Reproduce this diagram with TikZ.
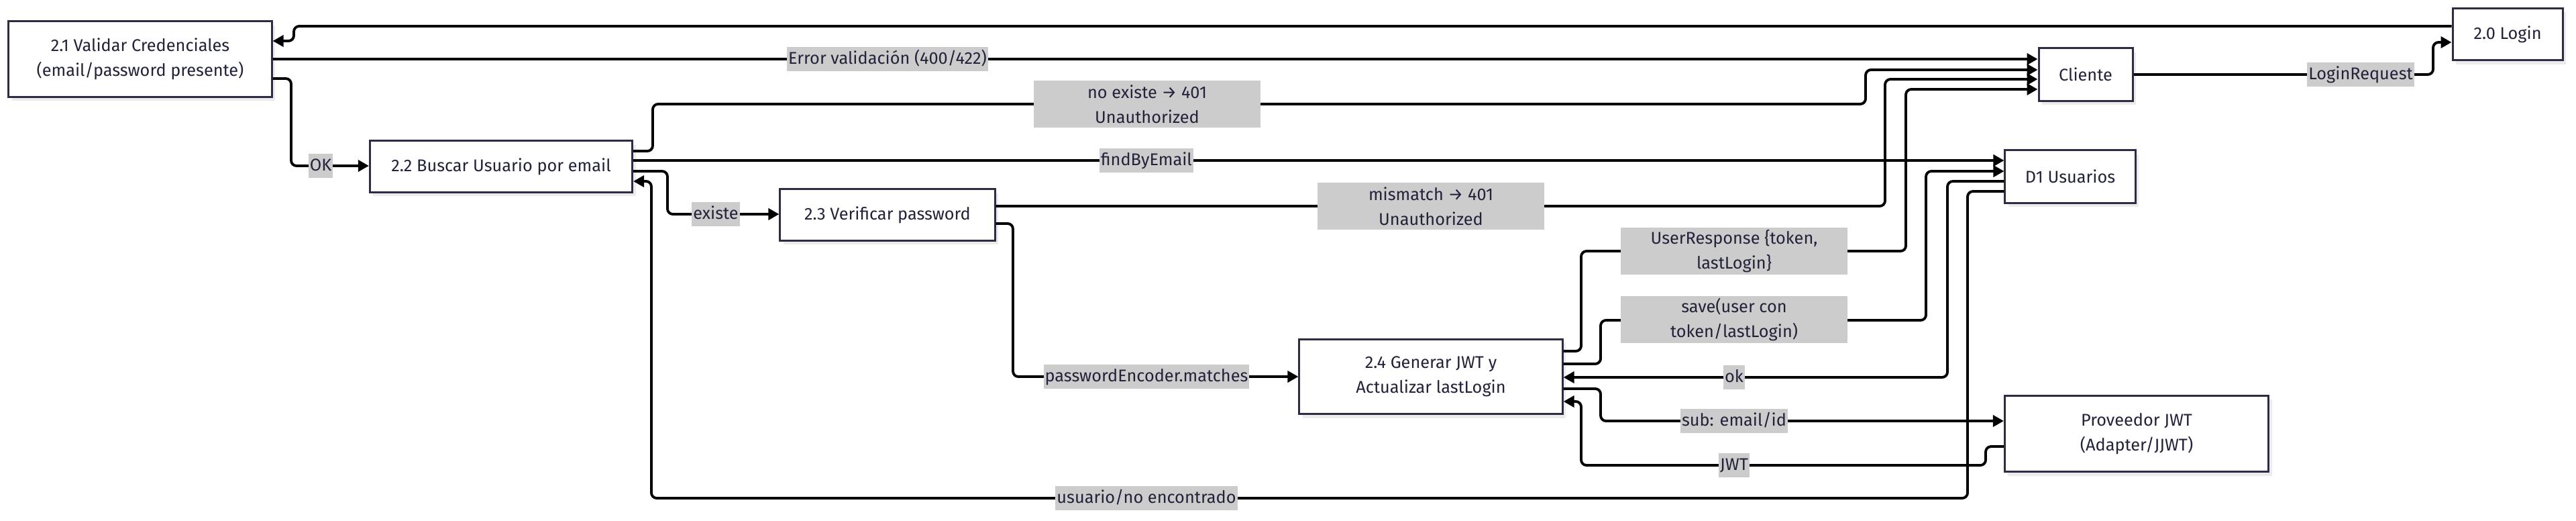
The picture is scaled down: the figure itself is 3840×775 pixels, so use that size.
\documentclass[tikz,border=0pt]{standalone}
\usepackage{fontspec}
\setmainfont{Fira Sans}
\usetikzlibrary{arrows.meta,shadows}
\definecolor{ink}{HTML}{22223A}
\definecolor{boxline}{HTML}{2C2C44}
\definecolor{tagfill}{HTML}{CCCCCC}
\definecolor{shade}{HTML}{EBEBEB}
\begin{document}
\begin{tikzpicture}[x=0.01cm, y=-0.01cm,
    proc/.style = {draw=boxline, line width=0.85pt, fill=white, text=ink, align=center, inner sep=0pt,
        font=\fontsize{7.2}{10.5}\selectfont,
        drop shadow={shadow xshift=0.05cm, shadow yshift=-0.06cm, fill=shade, opacity=1}},
    tag/.style = {fill=tagfill, text=ink, sharp corners, inner xsep=0.6pt, inner ysep=0.8pt,
        text height=6.6pt, text depth=2.2pt, font=\fontsize{7.2}{10.5}\selectfont},
    tagtwo/.style = {fill=tagfill, text=ink, sharp corners, align=center, inner sep=0pt,
        minimum width=3.37cm, minimum height=0.70cm, font=\fontsize{7.2}{10.5}\selectfont},
    flow/.style = {line width=1.1pt, rounded corners=0.08cm, -{Triangle[length=0.16cm, width=0.17cm]}}]
                \useasboundingbox (0,0) rectangle (3840,775);

                \node[proc] (21) [minimum width=3.92cm, minimum height=1.12cm] at (209,88) {2.1 Validar Credenciales\\(email/password presente)};
                \node[proc] (22) [minimum width=3.91cm, minimum height=0.76cm] at (747,248) {2.2 Buscar Usuario por email};
                \node[proc] (23) [minimum width=3.20cm, minimum height=0.76cm] at (1323,320) {2.3 Verificar password};
                \node[proc] (24) [minimum width=3.92cm, minimum height=1.11cm] at (2133,561) {2.4 Generar JWT y\\Actualizar lastLogin};
                \node[proc] (cli) [minimum width=1.40cm, minimum height=0.78cm] at (3109,111) {Cliente};
                \node[proc] (20) [minimum width=1.64cm, minimum height=0.77cm] at (3738,51) {2.0 Login};
                \node[proc] (d1) [minimum width=1.94cm, minimum height=0.78cm] at (3086,263) {D1 Usuarios};
                \node[proc] (jwt) [minimum width=3.93cm, minimum height=1.13cm] at (3185,646) {Proveedor JWT\\(Adapter/JJWT)};

                \draw[flow] (20.west |- 0,39) -| (438,61) -- (21.east |- 0,61);
                \draw[flow] (21.east |- 0,88) -- (cli.west |- 0,88) node[tag] at (1323,88) {Error validación (400/422)};
                \draw[flow] (21.east |- 0,117) -| (434,247) -- (22.west |- 0,247) node[tag] at (478,247) {OK};
                \draw[flow] (22.east |- 0,225) -| (973,155) -| (2781,104) -- (cli.west |- 0,104) node[tagtwo] at (1710,155) {no existe → 401\\Unauthorized};
                \draw[flow] (22.east |- 0,239) -- (d1.west |- 0,239) node[tag] at (1709,239) {findByEmail};
                \draw[flow] (22.east |- 0,255) -| (995,319) -- (23.west |- 0,319) node[tag] at (1067,319) {existe};
                \draw[flow] (23.east |- 0,307) -| (2810,118) -- (cli.west |- 0,118) node[tagtwo] at (2133,307) {mismatch → 401\\Unauthorized};
                \draw[flow] (23.east |- 0,333) -| (1510,561) -- (24.west |- 0,561) node[tag] at (1709,561) {passwordEncoder.matches};
                \draw[flow] (24.east |- 0,523) -| (2357,374) -| (2841,133) -- (cli.west |- 0,133) node[tagtwo] at (2585,374) {UserResponse \{token,\\lastLogin\}};
                \draw[flow] (24.east |- 0,542) -| (2386,477) -| (2871,255) -- (d1.west |- 0,255) node[tagtwo] at (2585,476) {save(user con\\token/lastLogin)};
                \draw[flow] (d1.west |- 0,270) -| (2903,562) -- (24.east |- 0,562) node[tag] at (2585,562) {ok};
                \draw[flow] (24.east |- 0,579) -| (2386,627) -- (jwt.west |- 0,627) node[tag] at (2585,627) {sub: email/id};
                \draw[flow] (jwt.west |- 0,665) -| (2960,693) -| (2357,598) -- (24.east |- 0,598) node[tag] at (2585,693) {JWT};
                \draw[flow] (d1.west |- 0,285) -| (2933,742) -| (971,270) -- (22.east |- 0,270) node[tag] at (1709,742) {usuario/no encontrado};
                \draw[flow] (cli.east |- 0,111) -| (3627,63) -- (20.west |- 0,63) node[tag] at (3519,111) {LoginRequest};

            \end{tikzpicture}
\end{document}
